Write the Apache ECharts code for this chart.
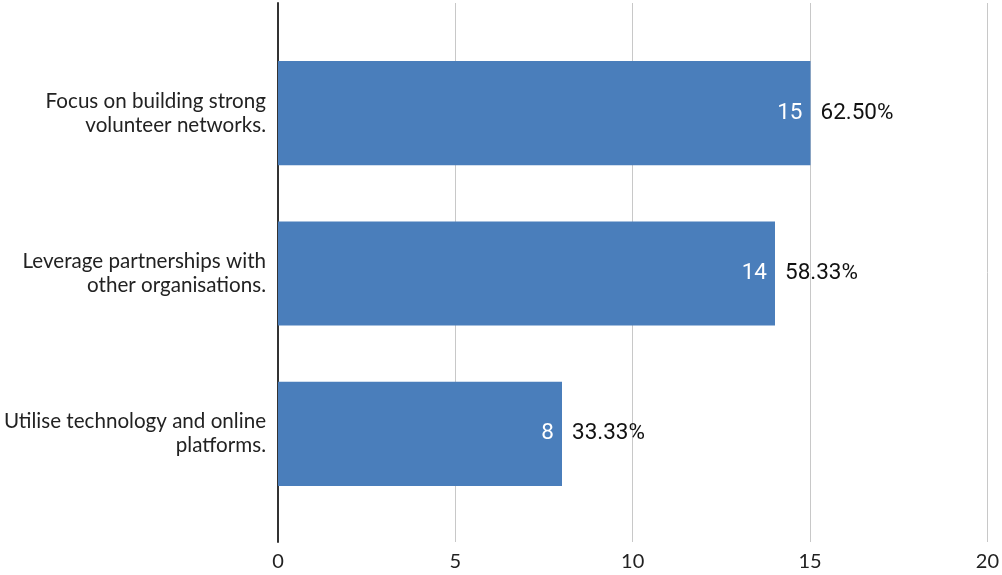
<!DOCTYPE html>
<html><head><meta charset="utf-8">
<script src="https://cdn.jsdelivr.net/npm/echarts@6/dist/echarts.min.js"></script>
<style>html,body{margin:0;padding:0;background:#fff}#c{width:1002px;height:575px}</style>
</head><body><div id="c"></div>
<script>
var categories = ['Focus on building strong\nvolunteer networks.', 'Leverage partnerships with\nother organisations.', 'Utilise technology and online\nplatforms.'];
var counts = [15, 14, 8];
var percents = ['62.50%', '58.33%', '33.33%'];
var xTicks = [0, 5, 10, 15, 20];

var chart = echarts.init(document.getElementById('c'), null, {renderer: 'canvas'});
chart.setOption({
  animation: false,
  grid: [
    {left: 278, right: 14, top: 3, bottom: 33},
    {left: 278, right: 14, top: 33, bottom: 61}
  ],
  xAxis: [
    {type: 'value', gridIndex: 0, min: xTicks[0], max: xTicks[xTicks.length - 1], interval: 5,
     axisLine: {show: false}, axisTick: {show: false},
     splitLine: {lineStyle: {color: '#c8c8c8', width: 1}},
     axisLabel: {fontFamily: 'Lato', fontSize: 20, color: '#222', margin: 10}},
    {type: 'value', gridIndex: 1, min: xTicks[0], max: xTicks[xTicks.length - 1], interval: 5, show: false}
  ],
  yAxis: [
    {type: 'category', gridIndex: 0, data: categories, inverse: true,
     axisLine: {show: true, lineStyle: {color: '#333', width: 2}},
     axisTick: {show: false}, axisLabel: {show: false}, splitLine: {show: false}},
    {type: 'category', gridIndex: 1, data: categories, inverse: true,
     axisLine: {show: false}, axisTick: {show: false},
     axisLabel: {fontFamily: 'Lato', fontSize: 20.6, color: '#222', margin: 12, lineHeight: 24, align: 'right'}}
  ],
  series: [
    {type: 'bar', xAxisIndex: 1, yAxisIndex: 1, data: counts, barCategoryGap: '35%',
     itemStyle: {color: '#4a7ebb'},
     label: {show: true, position: 'insideRight', distance: 8, color: '#fff', fontFamily: 'Roboto', fontSize: 22.5}},
    {type: 'bar', xAxisIndex: 1, yAxisIndex: 1, data: counts, barGap: '-100%', barCategoryGap: '35%',
     itemStyle: {color: 'rgba(0,0,0,0)'}, silent: true,
     label: {show: true, position: 'right', distance: 10, color: '#111', fontFamily: 'Roboto', fontSize: 22.5,
       formatter: function (p) { return percents[p.dataIndex]; }}}
  ]
});
</script></body></html>
